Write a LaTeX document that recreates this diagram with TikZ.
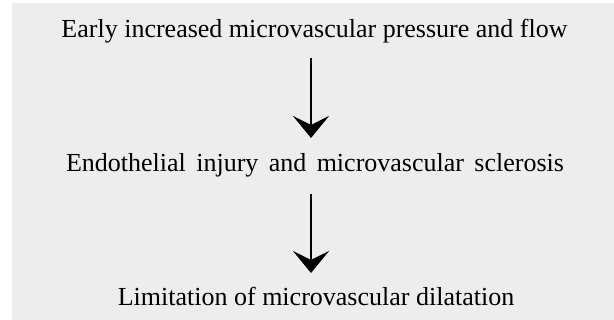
\documentclass[tikz,border=0pt]{standalone}
\usepackage{fontspec}
\setmainfont{Liberation Serif}
\usetikzlibrary{arrows.meta}
\definecolor{bggray}{HTML}{EDEDED}
\tikzset{
  label text/.style={font=\fontsize{26}{30}\selectfont, inner sep=0pt, outer ysep=16pt,
    text height=17pt, text depth=5pt, anchor=base},
  flow arrow/.style={line width=2pt, -{Stealth[length=22pt,width=36pt,inset=9pt]}}
}
\begin{document}
\begin{tikzpicture}[x=1pt,y=-1pt]
\useasboundingbox (0,0) rectangle (614,320);
\fill[bggray] (12,3) rectangle (614,320);
\node[label text] (n1) at (314.5,38) {Early increased microvascular pressure and flow};
\node[label text] (n2) at (315,172) {Endothelial\hspace{0.4em}injury\hspace{0.4em}and\hspace{0.4em}microvascular\hspace{0.4em}sclerosis};
\node[label text] (n3) at (316,306) {Limitation of microvascular dilatation};
\draw[flow arrow] ([xshift=-3.5pt,yshift=1pt]n1.south) -- ([xshift=-4pt,yshift=1pt]n2.north);
\draw[flow arrow] ([xshift=-4pt,yshift=-1pt]n2.south) -- ([xshift=-5pt,yshift=0pt]n3.north);
\end{tikzpicture}
\end{document}
